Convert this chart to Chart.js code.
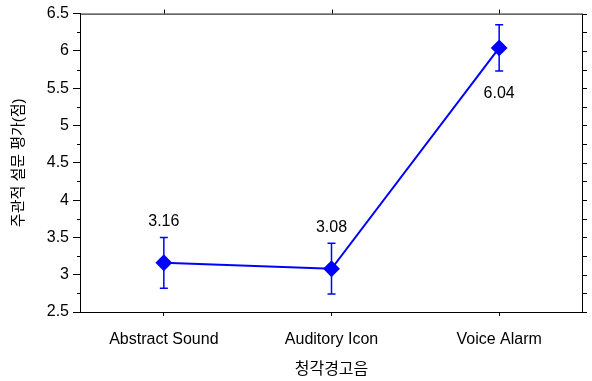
<!DOCTYPE html>
<html>
<head>
<meta charset="utf-8">
<script src="https://cdn.jsdelivr.net/npm/chart.js@4"></script>
<style>
  html, body { margin: 0; padding: 0; background: #fff; }
  #wrap { width: 592px; height: 381px; }
</style>
</head>
<body>
<div id="wrap"><canvas id="chart"></canvas></div>
<script>
const categories = ['Abstract Sound', 'Auditory Icon', 'Voice Alarm'];
const means = [3.16, 3.08, 6.04];
const errors = [0.34, 0.34, 0.31];
const labelPlace = ['above', 'above', 'below'];
const yTitle = '주관적 설문 평가(점)';
const xTitle = '청각경고음';

const FONT = "'Liberation Sans', Arial, 'Noto Sans CJK KR', sans-serif";
const BLUE = '#0000ff';

// error bars, value labels, frame and extra tick marks
const extras = {
    id: 'extras',
    beforeDatasetsDraw(chart) {
        const ctx = chart.ctx;
        const meta = chart.getDatasetMeta(0);
        const y = chart.scales.y;
        ctx.save();
        ctx.strokeStyle = BLUE;
        ctx.lineWidth = 1.5;
        meta.data.forEach((pt, i) => {
            const top = y.getPixelForValue(means[i] + errors[i]);
            const bot = y.getPixelForValue(means[i] - errors[i]);
            ctx.beginPath();
            ctx.moveTo(pt.x, top); ctx.lineTo(pt.x, bot);
            ctx.moveTo(pt.x - 4, top); ctx.lineTo(pt.x + 4, top);
            ctx.moveTo(pt.x - 4, bot); ctx.lineTo(pt.x + 4, bot);
            ctx.stroke();
        });
        ctx.restore();
    },
    afterDatasetsDraw(chart) {
        const ctx = chart.ctx;
        const meta = chart.getDatasetMeta(0);
        const y = chart.scales.y;
        const area = chart.chartArea;
        ctx.save();
        ctx.fillStyle = '#000';
        ctx.font = '16px ' + FONT;
        ctx.textAlign = 'center';
        ctx.textBaseline = 'middle';
        meta.data.forEach((pt, i) => {
            let ly;
            if (labelPlace[i] === 'above') ly = y.getPixelForValue(means[i] + errors[i]) - 16;
            else ly = y.getPixelForValue(means[i] - errors[i]) + 23;
            ctx.fillText(means[i].toFixed(2), pt.x, ly);
        });

        // frame
        ctx.strokeStyle = '#000';
        ctx.lineWidth = 1;
        ctx.strokeRect(area.left + 0.5, area.top + 0.5, area.right - area.left - 1, area.bottom - area.top);

        // minor ticks left, all ticks right
        ctx.beginPath();
        for (let v = 2.5; v <= 6.5001; v += 0.25) {
            const py = Math.round(y.getPixelForValue(v)) + 0.5;
            if (Math.abs((v * 2) - Math.round(v * 2)) > 0.01) {
                ctx.moveTo(area.left, py); ctx.lineTo(area.left - 3, py);
            }
            ctx.moveTo(area.right, py); ctx.lineTo(area.right + 4, py);
        }
        // top ticks
        meta.data.forEach(pt => {
            const px = Math.round(pt.x) + 0.5;
            ctx.moveTo(px, area.top); ctx.lineTo(px, area.top - 4);
        });
        ctx.stroke();
        ctx.restore();
    }
};

new Chart(document.getElementById('chart'), {
    type: 'line',
    data: {
        labels: categories,
        datasets: [{
            data: means,
            borderColor: BLUE,
            backgroundColor: BLUE,
            borderWidth: 2,
            pointStyle: 'rectRot',
            pointRadius: 7,
            pointHoverRadius: 7,
            tension: 0
        }]
    },
    options: {
        responsive: true,
        maintainAspectRatio: false,
        animation: false,
        layout: { padding: { top: 11, right: 8, left: 0, bottom: 0 } },
        plugins: { legend: { display: false }, tooltip: { enabled: false } },
        scales: {
            x: {
                offset: true,
                grid: { drawOnChartArea: false, offset: false, tickLength: 4, color: '#000' },
                border: { display: true, color: '#000' },
                ticks: { color: '#000', font: { family: FONT, size: 16 }, padding: 14 },
                title: { display: true, text: xTitle, color: '#000', font: { family: FONT, size: 16 }, padding: { top: 6, bottom: 2 } },
                afterFit: s => { s.height = 69; }
            },
            y: {
                min: 2.5,
                max: 6.5,
                grid: { drawOnChartArea: false, tickLength: 7, color: '#000' },
                border: { display: true, color: '#000' },
                ticks: {
                    stepSize: 0.5, color: '#000', font: { family: FONT, size: 16 }, padding: 4,
                    callback: v => String(v)
                },
                title: { display: true, text: yTitle, color: '#000', font: { family: FONT, size: 15 }, padding: { top: 10, bottom: 4 } },
                afterFit: s => { s.width = 80; }
            }
        }
    },
    plugins: [extras]
});
</script>
</body>
</html>
